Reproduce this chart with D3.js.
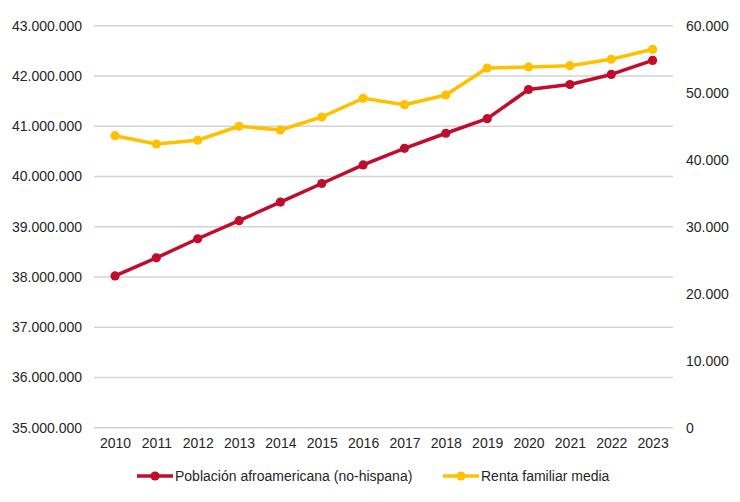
<!DOCTYPE html>
<html>
<head>
<meta charset="utf-8">
<script src="https://cdn.jsdelivr.net/npm/d3@7"></script>
<style>
  html, body { margin: 0; padding: 0; background: #fff; }
  svg { display: block; }
  text { font-family: "Liberation Sans", Arial, sans-serif; fill: #262626; }
</style>
</head>
<body>
<svg id="chart" width="740" height="502"></svg>
<script>
const years = ["2010","2011","2012","2013","2014","2015","2016","2017","2018","2019","2020","2021","2022","2023"];
const poblacion = [38020000, 38380000, 38760000, 39120000, 39490000, 39860000, 40230000, 40560000, 40860000, 41150000, 41730000, 41830000, 42030000, 42310000];
const renta = [43580, 42340, 42900, 44990, 44430, 46370, 49160, 48210, 49660, 53690, 53840, 54030, 54990, 56480];
const leftTicks = [35000000, 36000000, 37000000, 38000000, 39000000, 40000000, 41000000, 42000000, 43000000];
const rightTicks = [0, 10000, 20000, 30000, 40000, 50000, 60000];
const seriesNames = ["Población afroamericana (no-hispana)", "Renta familiar media"];
const colors = ["#C00D2B", "#FFC000"];

const locale = d3.formatLocale({decimal: ",", thousands: ".", grouping: [3], currency: ["", "€"]});
const fmt = locale.format(",d");

const svg = d3.select("#chart");
const plotLeft = 94, plotRight = 673, plotTop = 25.7, plotBottom = 427.7;

const x = d3.scalePoint().domain(years).range([115, 652.6]);
const yL = d3.scaleLinear().domain([35000000, 43000000]).range([plotBottom, plotTop]);
const yR = d3.scaleLinear().domain([0, 60000]).range([plotBottom, plotTop]);

// gridlines
svg.append("g").selectAll("line").data(leftTicks).join("line")
  .attr("x1", plotLeft).attr("x2", plotRight)
  .attr("y1", d => yL(d)).attr("y2", d => yL(d))
  .attr("stroke", "#D0D5D8").attr("stroke-width", 1.5);

// left axis
const gL = svg.append("g").attr("transform", `translate(${plotLeft},0)`)
  .call(d3.axisLeft(yL).tickValues(leftTicks).tickFormat(fmt).tickSize(0).tickPadding(12));
gL.select(".domain").remove();
gL.selectAll("text").style("font-size", "14px").attr("fill", "#262626").style("font-family", "Liberation Sans, Arial, sans-serif");

// right axis
const gR = svg.append("g").attr("transform", `translate(${plotRight},0)`)
  .call(d3.axisRight(yR).tickValues(rightTicks).tickFormat(fmt).tickSize(0).tickPadding(13));
gR.select(".domain").remove();
gR.selectAll("text").style("font-size", "14px").attr("fill", "#262626").style("font-family", "Liberation Sans, Arial, sans-serif");

// x axis
const gX = svg.append("g").attr("transform", `translate(0,${plotBottom})`)
  .call(d3.axisBottom(x).tickSize(0).tickPadding(10));
gX.select(".domain").remove();
gX.selectAll("text").style("font-size", "14px").attr("fill", "#262626").style("font-family", "Liberation Sans, Arial, sans-serif");

function drawSeries(values, yScale, color) {
  const data = years.map((yr, i) => ({yr, v: values[i]}));
  const line = d3.line().x(d => x(d.yr)).y(d => yScale(d.v));
  svg.append("path").datum(data).attr("d", line)
    .attr("fill", "none").attr("stroke", color).attr("stroke-width", 3.5).attr("stroke-linejoin", "round");
  svg.append("g").selectAll("circle").data(data).join("circle")
    .attr("cx", d => x(d.yr)).attr("cy", d => yScale(d.v)).attr("r", 4.6).attr("fill", color);
}
drawSeries(renta, yR, colors[1]);
drawSeries(poblacion, yL, colors[0]);

// legend
const legendItems = [
  {name: seriesNames[0], color: colors[0], x0: 137},
  {name: seriesNames[1], color: colors[1], x0: 443}
];
const ly = 476;
const lg = svg.append("g").selectAll("g").data(legendItems).join("g");
lg.append("line").attr("x1", d => d.x0).attr("x2", d => d.x0 + 36).attr("y1", ly).attr("y2", ly)
  .attr("stroke", d => d.color).attr("stroke-width", 3.5);
lg.append("circle").attr("cx", d => d.x0 + 18).attr("cy", ly).attr("r", 4.6).attr("fill", d => d.color);
lg.append("text").attr("x", d => d.x0 + 38).attr("y", ly + 5).style("font-size", "14px").text(d => d.name);
</script>
</body>
</html>
